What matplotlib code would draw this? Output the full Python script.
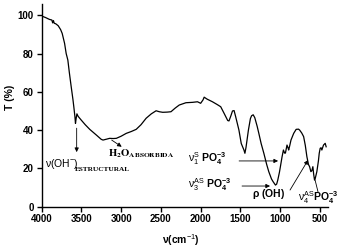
import matplotlib
matplotlib.use('Agg')
import matplotlib.pyplot as plt

# FTIR spectrum: wavenumber (cm-1) and transmittance (%)
wavenumber = [4000, 3950, 3900, 3870, 3860, 3850, 3840, 3820, 3790, 3760,
              3740, 3710, 3690, 3669, 3650, 3627, 3605, 3594, 3580, 3573,
              3565, 3555, 3540, 3502, 3450, 3394, 3310, 3250, 3227, 3180,
              3144, 3100, 3060, 3000, 2935, 2870, 2810, 2750, 2685, 2620,
              2560, 2520, 2477, 2420, 2373, 2320, 2269, 2185, 2102, 2040,
              2000, 1970, 1956, 1920, 1852, 1790, 1748, 1706, 1660, 1644,
              1620, 1600, 1580, 1560, 1519, 1490, 1456, 1444, 1430, 1400,
              1375, 1360, 1340, 1320, 1290, 1269, 1240, 1206, 1170, 1144,
              1110, 1090, 1060, 1045, 1031, 1010, 998, 977, 960, 945,
              935, 915, 900, 894, 880, 865, 831, 800, 770, 756,
              730, 706, 685, 665, 645, 631, 615, 603, 590, 580,
              569, 560, 540, 520, 510, 498, 487, 477, 466, 456,
              435, 423]
transmittance = [99.6, 98.8, 97.8, 97.5, 96.0, 97.2, 95.8, 95.5, 94.5, 92.5,
                 90.5, 85.3, 80.0, 76.6, 70.0, 62.7, 56.0, 52.2, 47.0, 43.5,
                 46.0, 48.5, 47.2, 45.3, 42.8, 40.4, 37.4, 35.2, 34.8, 35.3,
                 35.7, 35.6, 35.7, 36.8, 38.3, 39.3, 40.4, 42.8, 46.2, 48.5,
                 50.1, 49.6, 49.3, 49.4, 49.6, 51.5, 53.1, 54.3, 54.5, 54.8,
                 54.0, 55.8, 57.2, 56.2, 54.8, 53.3, 52.2, 48.8, 45.0, 44.8,
                 47.5, 50.0, 50.2, 47.0, 40.0, 33.0, 29.6, 27.9, 31.0, 40.0,
                 46.0, 47.5, 48.0, 46.5, 42.0, 38.3, 33.0, 27.9, 22.0, 18.3,
                 14.5, 13.1, 11.3, 11.8, 13.9, 18.0, 20.9, 26.1, 29.6, 28.0,
                 28.0, 32.2, 30.5, 29.6, 32.0, 34.8, 38.3, 40.4, 40.5, 40.0,
                 38.5, 36.6, 32.0, 26.1, 22.0, 20.9, 18.3, 18.8, 20.9, 17.0,
                 13.9, 14.8, 18.3, 24.0, 27.9, 30.5, 30.8, 29.6, 31.0, 32.2,
                 33.1, 31.3]

xticks = [4000, 3500, 3000, 2500, 2000, 1500, 1000, 500]
yticks = [0, 20, 40, 60, 80, 100]

plt.rcParams['font.family'] = ['Liberation Sans', 'DejaVu Sans']
plt.rcParams['mathtext.fontset'] = 'custom'
plt.rcParams['mathtext.rm'] = 'Liberation Sans'
plt.rcParams['mathtext.it'] = 'Liberation Sans:italic'
plt.rcParams['mathtext.bf'] = 'Liberation Sans:bold'

fig = plt.figure(figsize=(3.47, 2.48), dpi=100)
ax = fig.add_axes([0.1196, 0.1665, 0.8256, 0.8185])

ax.plot(wavenumber, transmittance, color='k', lw=0.9)

ax.set_xlim(4000, 400)
ax.set_ylim(0, 106)
ax.set_xticks(xticks)
ax.set_yticks(yticks)
for s in ['top', 'right']:
    ax.spines[s].set_visible(False)
for s in ['left', 'bottom']:
    ax.spines[s].set_linewidth(1.0)
ax.tick_params(direction='out', length=3.5, width=1.0, pad=2, labelsize=7)
for lab in ax.get_xticklabels() + ax.get_yticklabels():
    lab.set_fontweight('bold')

ax.set_xlabel(r'$\mathregular{\nu}$(cm$^{-1}$)', fontsize=7.5, fontweight='bold')
ax.xaxis.set_label_coords(0.487, -0.128)
ax.set_ylabel('T (%)', fontsize=7.5, fontweight='bold')
ax.yaxis.set_label_coords(-0.092, 0.54)

arrow = dict(arrowstyle='-|>', lw=0.6, color='k', mutation_scale=6,
             shrinkA=0, shrinkB=0)

# nu(OH) estructural
ax.text(3956, 20.7, r'$\mathregular{\nu}$(OH$^{-}$)', fontsize=7.5,
        ha='left', va='baseline')
ax.text(3579, 18.4, 'ESTRUCTURAL', fontsize=5.2, fontweight='bold',
        family='Liberation Serif', ha='left', va='baseline')
ax.annotate('', xy=(3558, 28.5), xytext=(3558, 41.0), arrowprops=arrow)

# H2O absorbida
ax.text(3164, 26.0, r'$\mathbf{H_{2}O_{ABSORBIDA}}$', fontsize=7.6,
        math_fontfamily='stix', ha='left', va='baseline')
ax.annotate('', xy=(2992, 31.3), xytext=(3118, 34.8), arrowprops=arrow)

# phosphate bands
ax.text(2158, 23.3, r'$\mathregular{\nu^{S}_{1}}\ \mathbf{PO_{4}^{-3}}$',
        fontsize=7.5, ha='left', va='baseline')
ax.annotate('', xy=(1027, 23.9), xytext=(1517, 23.9), arrowprops=arrow)

ax.text(2158, 9.8, r'$\mathregular{\nu^{AS}_{3}}\ \mathbf{PO_{4}^{-3}}$',
        fontsize=7.5, ha='left', va='baseline')
ax.annotate('', xy=(1128, 10.8), xytext=(1480, 10.8), arrowprops=arrow)

ax.text(1354, 5.0, r'$\mathregular{\rho}$ (OH)', fontsize=7.5,
        fontweight='bold', ha='left', va='baseline')
ax.annotate('', xy=(650, 24.4), xytext=(877, 8.7), arrowprops=arrow)

ax.text(776, 2.8, r'$\mathregular{\nu^{AS}_{4}}\mathbf{PO_{4}^{-3}}$',
        fontsize=7.5, ha='left', va='baseline')
ax.plot([525, 562], [7.7, 13.9], color='k', lw=0.6)

fig.savefig('out.png', dpi=100)
